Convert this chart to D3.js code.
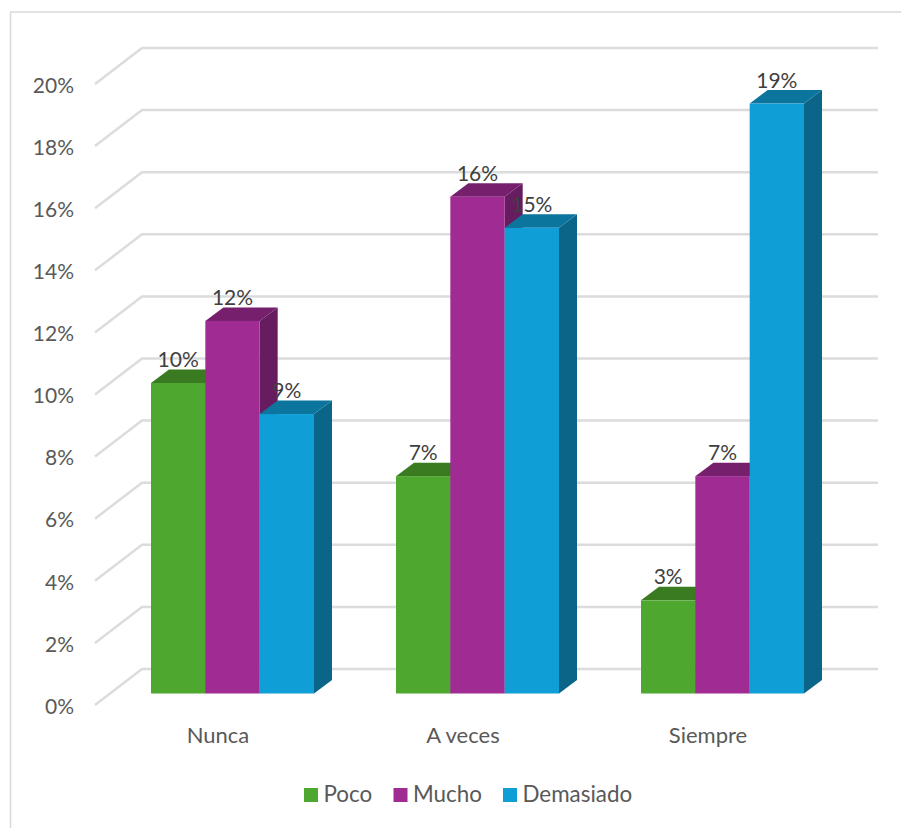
<!DOCTYPE html>
<html><head><meta charset="utf-8">
<script src="https://cdn.jsdelivr.net/npm/d3@7/dist/d3.min.js"></script>
<style>html,body{margin:0;padding:0;background:#fff}svg{display:block}text{font-family:Lato,"Open Sans",sans-serif}</style>
</head><body><svg id="c" width="901" height="828"></svg>
<script>
const categories = ["Nunca", "A veces", "Siempre"];
const seriesNames = ["Poco", "Mucho", "Demasiado"];
const poco = [10, 7, 3];
const mucho = [12, 16, 7];
const demasiado = [9, 15, 19];
const yTicks = [0, 2, 4, 6, 8, 10, 12, 14, 16, 18, 20];
const seriesValues = [poco, mucho, demasiado];
const colors = ["#4EA72E", "#A02B93", "#0F9ED5"];

const svg = d3.select("#c");
// frame
svg.append("path").attr("d", "M10.5,828V12H901").attr("fill", "none").attr("stroke", "#d9d9d9").attr("stroke-width", 1.5);

const y = d3.scaleLinear().domain([0, 20]).range([705, 84]);
const x0 = d3.scaleBand().domain(categories).range([151, 804]).paddingInner(0.3347).paddingOuter(0);
const x1 = d3.scaleBand().domain(seriesNames).range([0, x0.bandwidth()]);
const wallDx = 47, wallDy = -36, wallRight = 878;
const baseDy = -11.5, depthDx = 18, depthDy = -13.5;

// gridlines on floor/wall
svg.append("g").selectAll("path").data(yTicks).join("path")
  .attr("d", d => `M${95},${y(d)}L${95 + wallDx},${y(d) + wallDy}H${wallRight}`)
  .attr("fill", "none").attr("stroke", "#dcdcdc").attr("stroke-width", 2.5);

// axes (text only)
const yAxis = svg.append("g").attr("transform", "translate(74,4)")
  .call(d3.axisLeft(y).tickValues(yTicks).tickSize(0).tickPadding(0).tickFormat(d => d + "%"));
yAxis.select(".domain").remove();
yAxis.selectAll("text").attr("font-size", 21).attr("fill", "#595959").attr("font-family", "Lato").attr("dy", "0.2em");

const xAxis = svg.append("g").attr("transform", "translate(-14.5,743)")
  .call(d3.axisBottom(x0).tickSize(0).tickPadding(0));
xAxis.select(".domain").remove();
xAxis.selectAll("text").attr("font-size", 22).attr("fill", "#595959").attr("font-family", "Lato").attr("dy", "0");

const bars = [];
categories.forEach((c, i) => seriesNames.forEach((s, j) => bars.push({c, s, j, v: seriesValues[j][i]})));

// each series drawn in order so that later bars overlap earlier sides
const g = svg.append("g");
bars.forEach(b => {
  const l = x0(b.c) + x1(b.s), r = l + x1.bandwidth();
  const t = y(b.v) + baseDy, bot = y(0) + baseDy;
  const col = d3.color(colors[b.j]);
  const bg = g.append("g");
  bg.append("path").attr("d", `M${r},${t}L${r + depthDx},${t + depthDy}V${bot + depthDy}L${r},${bot}Z`)
    .attr("fill", col.darker(1.25));
  bg.append("path").attr("d", `M${l},${t}L${l + depthDx},${t + depthDy}H${r + depthDx}L${r},${t}Z`)
    .attr("fill", col.darker(0.85));
  bg.append("rect").attr("x", l).attr("y", t).attr("width", r - l).attr("height", bot - t).attr("fill", colors[b.j]);
});

// data labels
svg.append("g").selectAll("text").data(bars).join("text")
  .attr("x", b => x0(b.c) + x1(b.s) + x1.bandwidth() / 2)
  .attr("y", b => y(b.v) + baseDy - 16)
  .attr("text-anchor", "middle").attr("font-size", 21).attr("fill", "#404040")
  .text(b => b.v + "%");

// legend
const legendX = [304, 393.5, 503];
const lg = svg.append("g").selectAll("g").data(seriesNames).join("g")
  .attr("transform", (d, i) => `translate(${legendX[i]},788)`);
lg.append("rect").attr("width", 14).attr("height", 14).attr("fill", (d, i) => colors[i]);
lg.append("text").attr("x", 19.5).attr("y", 14).attr("font-size", 22.4).attr("fill", "#595959").text(d => d);
</script></body></html>
